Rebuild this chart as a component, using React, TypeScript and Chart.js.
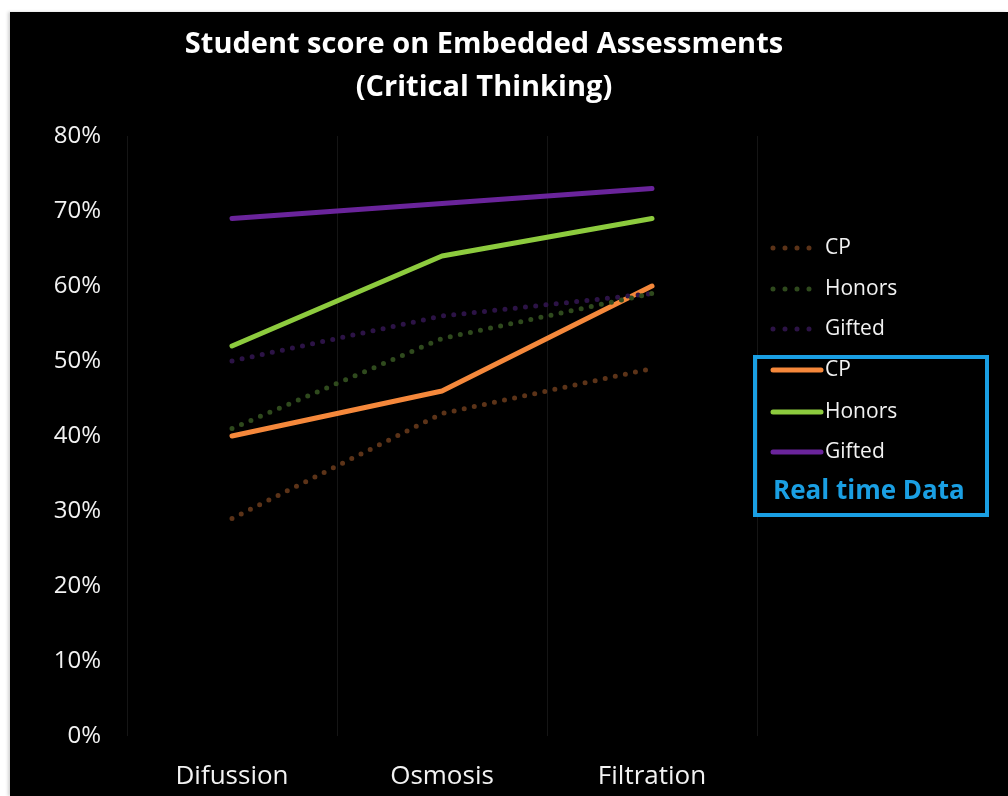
import React, { useEffect, useRef } from "react";
import { Chart, registerables } from "chart.js";

Chart.register(...registerables);

const categories = ["Difussion", "Osmosis", "Filtration"];
const titleLines = ["Student score on Embedded Assessments", "(Critical Thinking)"];
const cpPlanned = [29, 43, 49];
const honorsPlanned = [41, 53, 59];
const giftedPlanned = [50, 56, 59];
const cpReal = [40, 46, 60];
const honorsReal = [52, 64, 69];
const giftedReal = [69, 71, 73];
const yMin = 0;
const yMax = 80;
const yStep = 10;
const boxLabel = "Real time Data";

const FONT = "'Open Sans', 'DejaVu Sans', sans-serif";
const TEXT = "#f2f2f2";
const BLUE = "#1a9fe3";

const decorPlugin = {
  id: "decor",
  afterDraw(chart: any) {
    const ctx = chart.ctx;
    ctx.save();
    // title
    ctx.fillStyle = "#ffffff";
    ctx.font = `bold 29px ${FONT}`;
    ctx.textAlign = "center";
    ctx.textBaseline = "middle";
    ctx.fillText(titleLines[0], 474, 33);
    ctx.fillText(titleLines[1], 474, 76);

    // legend
    const ys = [236, 277, 317, 358, 400, 440];
    chart.data.datasets.forEach((ds: any, i: number) => {
      const y = ys[i];
      ctx.strokeStyle = ds.borderColor;
      ctx.lineWidth = ds.borderWidth;
      ctx.lineCap = "round";
      ctx.beginPath();
      if (ds.borderDash && ds.borderDash.length) {
        ctx.setLineDash([0, 12]);
        ctx.moveTo(763, y);
        ctx.lineTo(802, y);
      } else {
        ctx.setLineDash([]);
        ctx.moveTo(763, y);
        ctx.lineTo(811, y);
      }
      ctx.stroke();
      ctx.setLineDash([]);
      ctx.fillStyle = TEXT;
      ctx.font = `21px ${FONT}`;
      ctx.textAlign = "left";
      ctx.textBaseline = "middle";
      ctx.fillText(ds.label, 815, y);
    });

    // box
    ctx.strokeStyle = BLUE;
    ctx.lineWidth = 4;
    ctx.strokeRect(745, 345, 232, 158);
    ctx.fillStyle = BLUE;
    ctx.font = `bold 26px ${FONT}`;
    ctx.textAlign = "left";
    ctx.textBaseline = "middle";
    ctx.fillText(boxLabel, 763, 480);
    ctx.restore();
  },
};

export default function App() {
  const ref = useRef<HTMLCanvasElement | null>(null);

  useEffect(() => {
    if (!ref.current) return;
    const dotted = (label: string, data: number[], color: string) => ({
      label,
      data,
      borderColor: color,
      backgroundColor: color,
      borderWidth: 5,
      borderDash: [0, 10.3],
      borderCapStyle: "round",
      borderJoinStyle: "round",
      pointRadius: 0,
      tension: 0,
      fill: false,
    });
    const solid = (label: string, data: number[], color: string) => ({
      label,
      data,
      borderColor: color,
      backgroundColor: color,
      borderWidth: 5,
      borderDash: [],
      borderCapStyle: "round",
      borderJoinStyle: "round",
      pointRadius: 0,
      tension: 0,
      fill: false,
    });
    const chart = new Chart(ref.current, {
      type: "line",
      data: {
        labels: categories,
        datasets: [
          dotted("CP", cpPlanned, "#5c3318"),
          dotted("Honors", honorsPlanned, "#2f4a1d"),
          dotted("Gifted", giftedPlanned, "#2c1346"),
          solid("CP", cpReal, "#f5883b"),
          solid("Honors", honorsReal, "#8dcb3e"),
          solid("Gifted", giftedReal, "#6a249b"),
        ] as any,
      },
      options: {
        animation: false,
        responsive: true,
        maintainAspectRatio: false,
        layout: { padding: { top: 124, right: 251, bottom: 0, left: 0 } },
        plugins: {
          legend: { display: false },
          title: { display: false },
          tooltip: { enabled: false },
        },
        scales: {
          x: {
            offset: true,
            grid: { display: true, color: "#151515", lineWidth: 1, offset: true, drawTicks: false },
            border: { display: false },
            ticks: { color: TEXT, font: { family: FONT, size: 26 }, padding: 25 },
            afterFit: (s: any) => {
              s.height = 60;
              s.paddingLeft = 0;
              s.paddingRight = 0;
            },
          },
          y: {
            min: yMin,
            max: yMax,
            grid: { display: false, drawTicks: false },
            border: { display: false },
            ticks: {
              stepSize: yStep,
              color: TEXT,
              font: { family: FONT, size: 24 },
              padding: 26,
              callback: (v: any) => `${v}%`,
            },
            afterFit: (s: any) => {
              s.width = 117;
              s.paddingTop = 0;
              s.paddingBottom = 0;
            },
          },
        },
      },
      plugins: [decorPlugin],
    });
    return () => chart.destroy();
  }, []);

  return (
    <div
      style={{
        position: "absolute",
        left: 10,
        top: 12,
        width: 998,
        height: 784,
        background: "#000",
        boxShadow: "-2px 0 3px rgba(0,0,0,0.18)",
      }}
    >
      <canvas ref={ref} />
    </div>
  );
}
